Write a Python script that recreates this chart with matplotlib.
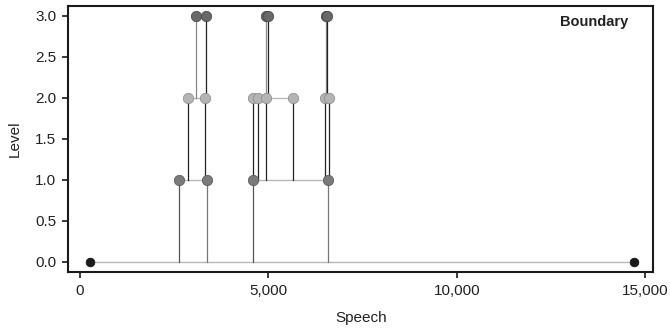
import matplotlib
matplotlib.use("Agg")
import matplotlib.pyplot as plt
from matplotlib.ticker import FuncFormatter

# Segments of the boundary hierarchy (level, start, end)
seg_level = [0, 1, 1, 2, 2, 2, 2, 3, 3, 3]
seg_start = [273, 2636, 4590, 2867, 4590, 4930, 6503, 3071, 4930, 6530]
seg_end = [14688, 3363, 6590, 3329, 4734, 5662, 6610, 3336, 4999, 6565]

x_ticks = [0, 5000, 10000, 15000]
y_ticks = [0.0, 0.5, 1.0, 1.5, 2.0, 2.5, 3.0]

marker_face = {0: "#1a1a1a", 1: "#7a7a7a", 2: "#b4b4b4", 3: "#686868"}
marker_edge = {0: "#111111", 1: "#555555", 2: "#888888", 3: "#444444"}
drop_color = {1: ("#555555", "#777777"), 2: ("#222222", "#222222"), 3: ("#888888", "#222222")}

plt.rcParams['font.family'] = ['Liberation Sans', 'DejaVu Sans']

fig = plt.figure(figsize=(6.7, 3.33), dpi=100)
ax = fig.add_axes([68.3 / 670, 1 - 271.7 / 333, (653.3 - 68.3) / 670, (271.7 - 5.7) / 333])

for lv, s, e in zip(seg_level, seg_start, seg_end):
    ax.plot([s, e], [lv, lv], color="#b8b8b8", lw=1.0, zorder=1)
    if lv > 0:
        cs, ce = drop_color[lv]
        ax.plot([s, s], [lv - 1, lv], color=cs, lw=0.9, zorder=2)
        ax.plot([e, e], [lv - 1, lv], color=ce, lw=0.9, zorder=2)

for lv, s, e in zip(seg_level, seg_start, seg_end):
    ms = 6.3 if lv == 0 else 7.5
    ax.plot([s, e], [lv, lv], ls="none", marker="o", ms=ms,
            mfc=marker_face[lv], mec=marker_edge[lv], mew=0.5, zorder=3 + lv)

ax.set_xlim(-310, 15210)
ax.set_ylim(-0.122, 3.122)
ax.set_xticks(x_ticks)
ax.set_yticks(y_ticks)
ax.xaxis.set_major_formatter(FuncFormatter(lambda v, p: f"{int(v):,}"))
ax.yaxis.set_major_formatter(FuncFormatter(lambda v, p: f"{v:.1f}"))
for sp in ax.spines.values():
    sp.set_linewidth(1.5)
    sp.set_color("#1a1a1a")
ax.tick_params(axis="both", direction="out", length=4.5, width=1.2, color="#1a1a1a",
               labelsize=11, labelcolor="#222222", pad=4)
ax.set_xlabel("Speech", fontsize=11, color="#222222", labelpad=10)
ax.set_ylabel("Level", fontsize=11, color="#222222", labelpad=10)
ax.text(0.958, 0.965, "Boundary", transform=ax.transAxes, ha="right", va="top",
        fontsize=10.5, fontweight="bold", color="#222222")

fig.savefig("out.png", dpi=100)
